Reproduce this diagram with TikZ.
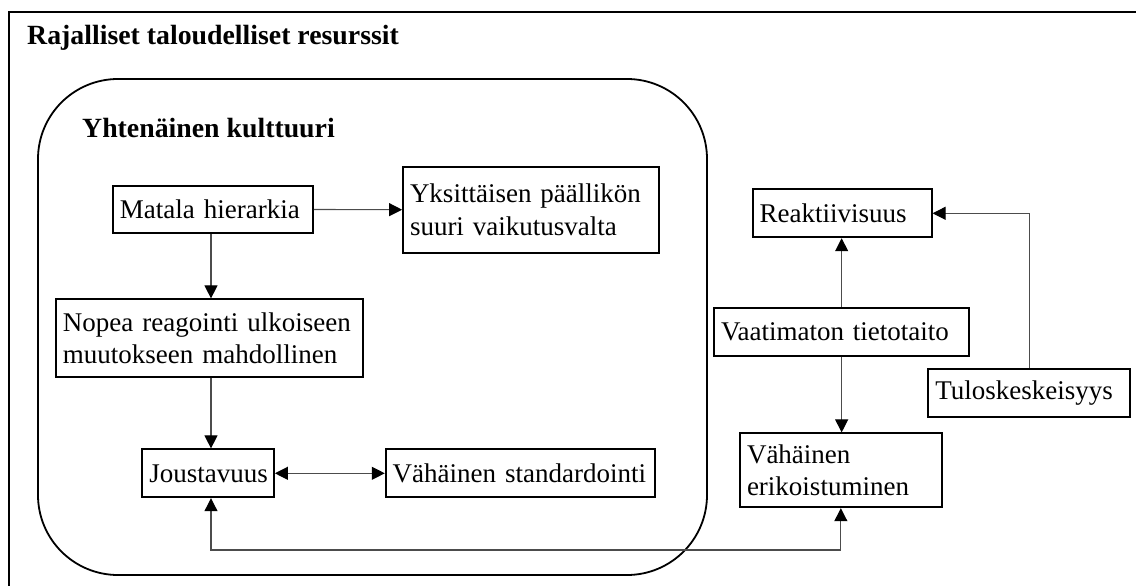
\documentclass[tikz,border=0pt]{standalone}
\usepackage{fontspec}
\setmainfont{Liberation Serif}
\usetikzlibrary{arrows.meta}

\newcommand{\bodyfont}{\fontsize{27}{32.5}\selectfont}
\newcommand{\headfont}{\fontsize{27.8}{33}\selectfont\bfseries}

\tikzset{
  tip/.tip={Triangle[length=13pt,width=13pt,color=black]},
  box/.style={draw, line width=1.8pt, rectangle, inner xsep=7pt, inner ysep=0pt,
              align=left, font=\bodyfont},
  conn/.style={line width=1.1pt, draw=black!70, -tip},
  conn2/.style={line width=1.1pt, draw=black!70, tip-tip},
  frame/.style={line width=2pt},
  culture/.style={line width=1.8pt, rounded corners=80pt},
  heading/.style={anchor=base west, inner sep=0pt, font=\headfont}
}

\begin{document}
\begin{tikzpicture}[x=1pt, y=-1pt]
  \useasboundingbox (0,0) rectangle (1136,586);

  % outer frame: limited financial resources
  \draw[frame] (9,586) -- (9,12) -- (1136,12);
  \node[heading] (title) at (27,45) {Rajalliset taloudelliset resurssit};

  % uniform culture region
  \draw[culture] (38,79) rectangle (707,575);
  \node[heading] (culturetitle) at (82,137) {Yhtenäinen kulttuuri};

  % boxes
  \node[box, minimum width=200.3pt, minimum height=47pt, text width=186pt]
    (matala) at (212.85,209.5) {Matala hierarkia};
  \node[box, minimum width=256pt, minimum height=86pt, text width=242pt]
    (yks) at (531,209.7) {Yksittäisen päällikön\\suuri vaikutusvalta};
  \node[box, minimum width=307.3pt, minimum height=77.7pt, text width=293pt]
    (nopea) at (209.35,338.15) {Nopea reagointi ulkoiseen\\muutokseen mahdollinen};
  \node[box, minimum width=131.7pt, minimum height=48pt, text width=117.7pt]
    (jousta) at (208.15,473.3) {Joustavuus};
  \node[box, minimum width=269.3pt, minimum height=48pt, text width=255.3pt]
    (vstd) at (520.35,473.3) {Vähäinen standardointi};
  \node[box, minimum width=179pt, minimum height=48pt, text width=165pt]
    (reak) at (842.2,213.3) {Reaktiivisuus};
  \node[box, minimum width=255.3pt, minimum height=48pt, text width=241.3pt]
    (vaat) at (841.65,331.7) {Vaatimaton tietotaito};
  \node[box, minimum width=201.7pt, minimum height=48pt, text width=187.7pt]
    (tulos) at (1029.15,393.3) {Tuloskeskeisyys};
  \node[box, minimum width=201.7pt, minimum height=74pt, text width=187.7pt]
    (verik) at (840.85,470.3) {Vähäinen\\erikoistuminen};

  % helper coordinates for the routing
  \coordinate (col) at (211,0);
  \coordinate (loopy) at (0,550);

  % connectors
  \draw[conn] (matala.east) -- (yks.west);
  \draw[conn] (matala.south -| col) -- (nopea.north -| col);
  \draw[conn] (nopea.south -| col) -- (jousta.north -| col);
  \draw[conn2] (jousta.east) -- (vstd.west);
  \draw[conn2] (jousta.south -| col) -- (col |- loopy) -| (verik.south);
  \draw[conn] (vaat.north) -- (vaat.north |- reak.south);
  \draw[conn] (vaat.south) -- (vaat.south |- verik.north);
  \draw[conn] (tulos.north) |- (reak.east);
\end{tikzpicture}
\end{document}
